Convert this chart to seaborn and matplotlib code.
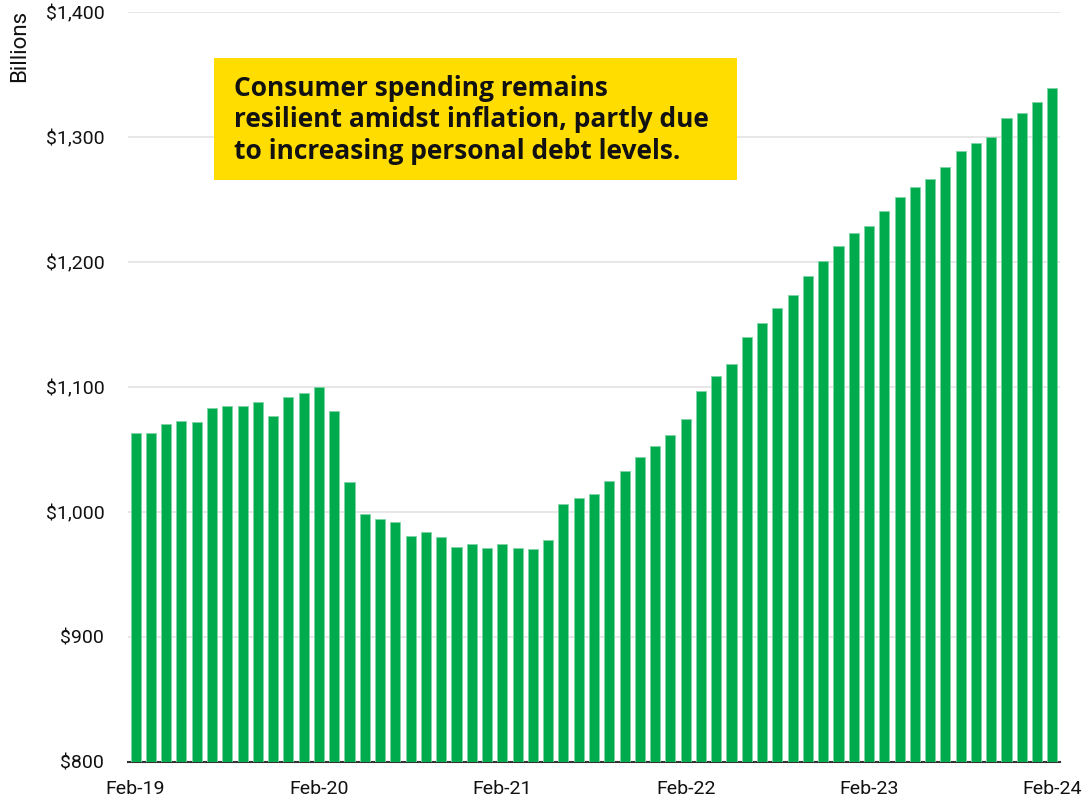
import matplotlib
matplotlib.use("Agg")
import matplotlib.pyplot as plt
from matplotlib.patches import Rectangle
import seaborn as sns
import pandas as pd

# Monthly consumer spending, Feb 2019 - Feb 2024 (USD billions)
months = pd.date_range("2019-02-01", "2024-02-01", freq="MS").strftime("%b-%y").tolist()
spending = [
    1063, 1063, 1070.5, 1073, 1072, 1083, 1084.5, 1085, 1088, 1077, 1092, 1095,
    1100, 1081, 1024, 998.5, 994, 992, 981, 984, 980, 972, 974.5, 971,
    974.5, 971.5, 970, 977.5, 1006, 1011, 1014, 1024.5, 1032.5, 1044, 1053, 1062,
    1074.5, 1097, 1109, 1118.5, 1140, 1151.5, 1163.5, 1173.5, 1188.5, 1201, 1212.5, 1223.5,
    1229, 1241, 1252, 1260, 1266.5, 1276, 1289, 1295, 1300, 1315, 1319, 1328,
    1339,
]
tick_labels = ["Feb-19", "Feb-20", "Feb-21", "Feb-22", "Feb-23", "Feb-24"]
y_ticks = [800, 900, 1000, 1100, 1200, 1300, 1400]
note = ("Consumer spending remains\n"
        "resilient amidst inflation, partly due\n"
        "to increasing personal debt levels.")

sns.set_theme(style="white")
plt.rcParams["font.family"] = ["Roboto", "DejaVu Sans"]

df = pd.DataFrame({"month": months, "spending": spending})

fig = plt.figure(figsize=(10.91, 8.02), dpi=100)
ax = fig.add_axes([0.1173, 0.0499, 0.8543, 0.9351])

sns.barplot(data=df, x="month", y="spending", color="#00AB4E",
            width=0.66, saturation=1, ax=ax, zorder=3,
            edgecolor="#7fd5a6", linewidth=0.6)

ax.set_ylim(800, 1400)
ax.set_xlim(-0.5, len(months) - 0.5)
ax.set_yticks(y_ticks)
ax.set_yticklabels([f"${v:,}" for v in y_ticks])
ax.yaxis.grid(True, color="#e3e3e3", linewidth=1.2, zorder=0)
ax.set_axisbelow(True)

ax.set_xticks([months.index(t) for t in tick_labels])
ax.set_xticklabels(tick_labels)
ax.tick_params(axis="both", length=0, labelsize=14, colors="#111111")
ax.tick_params(axis="y", pad=17)
ax.tick_params(axis="x", pad=13)

for side in ("left", "right", "top"):
    ax.spines[side].set_visible(False)
ax.spines["bottom"].set_color("#333333")
ax.spines["bottom"].set_linewidth(1.5)

ax.set_xlabel("")
ax.set_ylabel("")
fig.text(0.0085, 0.988, "Billions", rotation=90, ha="left", va="top",
         fontsize=16, color="#111111")

# Highlighted call-out box
fig.patches.append(Rectangle((0.1961, 0.7756), 0.4794, 0.1521,
                             transform=fig.transFigure, facecolor="#FFDD00",
                             edgecolor="none", zorder=5))
fig.text(0.2145, 0.8504, note, ha="left", va="center",
         fontsize=19, fontweight="bold", color="#111111", linespacing=1.2,
         family=["Open Sans", "DejaVu Sans"], zorder=6)

fig.savefig("out.png", dpi=100, facecolor="white")
